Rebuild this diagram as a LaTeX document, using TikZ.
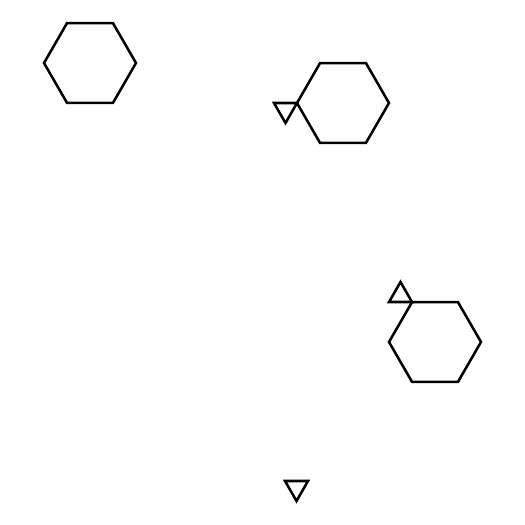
\documentclass[tikz,border=0pt]{standalone}
\usepackage{tikz}

\begin{document}
\begin{tikzpicture}[
    x=0.5mm, y=-0.5mm,
    ring/.style={line width=3.6pt, line join=miter},
    tri/.style={line width=3.6pt, line join=miter}
]
\useasboundingbox (0,0) rectangle (525,525);

% hexagons
\foreach \cx/\cy in {90/63, 343/103, 435/342}
  \draw[ring] (\cx,\cy) +(0:46) -- +(60:46) -- +(120:46) -- +(180:46) -- +(240:46) -- +(300:46) -- cycle;

% small triangles
\draw[tri] (274,103) -- (297,103) -- (285.5,123) -- cycle;
\draw[tri] (389,302) -- (412,302) -- (400.5,282) -- cycle;
\draw[tri] (285,481) -- (308,481) -- (296.5,501) -- cycle;
\end{tikzpicture}
\end{document}
